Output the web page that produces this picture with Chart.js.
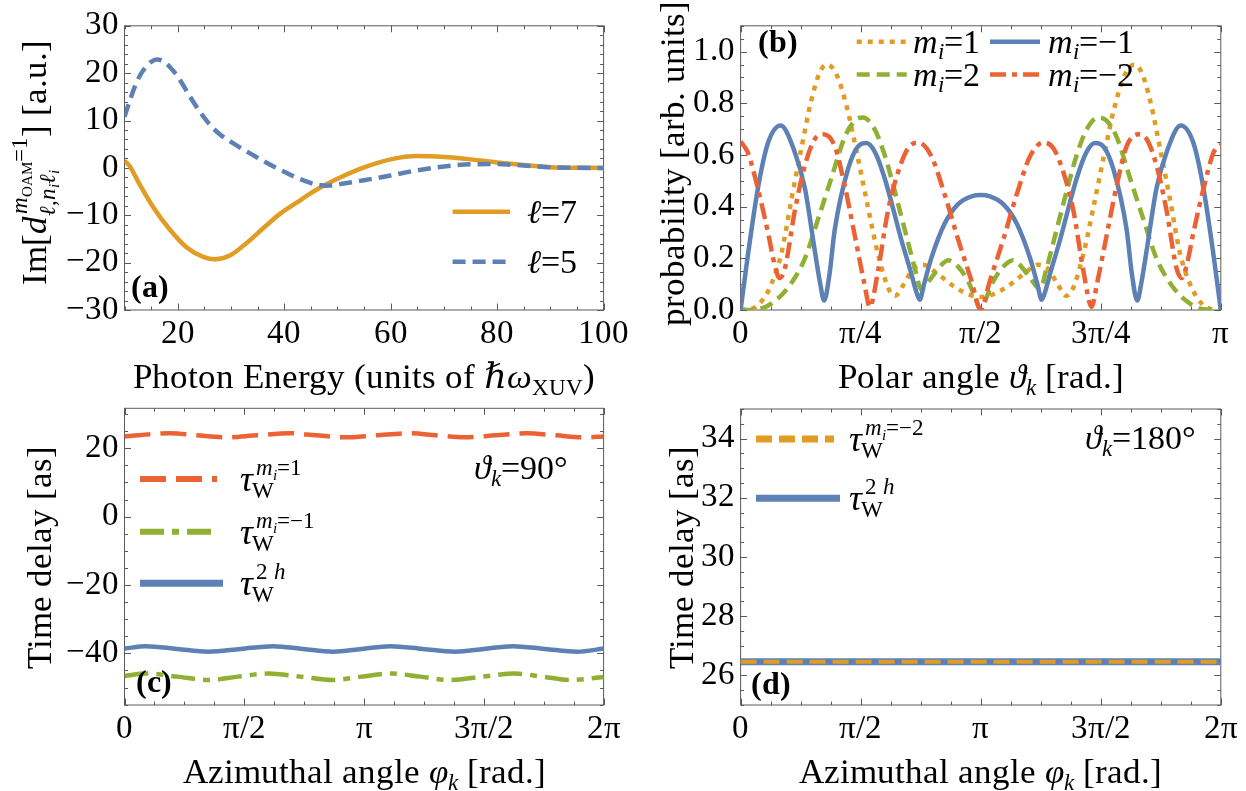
<!DOCTYPE html>
<html>
<head>
<meta charset="utf-8">
<script src="https://cdn.jsdelivr.net/npm/chart.js@4.4.1/dist/chart.umd.min.js"></script>
<style>
  @font-face { font-family: 'PanelSerif'; font-style: normal; font-weight: 400;
    src: local('Liberation Serif'), local('LiberationSerif'), local('Tinos'), local('Tinos-Regular'), local('DejaVu Serif'), local('DejaVuSerif'), local('Noto Serif'), local('NotoSerif-Regular'); }
  @font-face { font-family: 'PanelSerif'; font-style: italic; font-weight: 400;
    src: local('Liberation Serif Italic'), local('LiberationSerif-Italic'), local('Tinos Italic'), local('Tinos-Italic'), local('DejaVu Serif Italic'), local('DejaVuSerif-Italic'), local('Noto Serif Italic'), local('NotoSerif-Italic'); }
  @font-face { font-family: 'PanelSerif'; font-style: normal; font-weight: 700;
    src: local('Liberation Serif Bold'), local('LiberationSerif-Bold'), local('Tinos Bold'), local('Tinos-Bold'), local('DejaVu Serif Bold'), local('DejaVuSerif-Bold'), local('Noto Serif Bold'), local('NotoSerif-Bold'); }
  html, body { margin: 0; padding: 0; background: #fff; }
  #wrap { position: relative; width: 1246px; height: 791px; overflow: hidden; background: #fff; }
  #wrap canvas { position: absolute; left: 0; top: 0; }
</style>
</head>
<body>
<div id="wrap">
  <canvas id="pa" width="1246" height="791"></canvas>
  <canvas id="pb" width="1246" height="791"></canvas>
  <canvas id="pc" width="1246" height="791"></canvas>
  <canvas id="pd" width="1246" height="791"></canvas>
</div>
<script>
// ---------- (a) dipole matrix element vs photon energy ----------
const aEnergy7 = [10, 10.9, 12.9, 15.4, 18.5, 21.7, 24.8, 27, 29.8, 33, 36.1, 39.2, 42.4, 44.8, 46.7, 50, 55, 60, 65, 70, 75, 80, 85, 90, 95, 100];
const aImL7    = [1.5, 0.5, -3.6, -8.3, -13, -16.8, -18.8, -19.3, -18.5, -15.8, -12.7, -9.7, -7.3, -5.5, -4.2, -2.3, 0.1, 1.8, 2.5, 2.3, 1.8, 1.15, 0.6, 0.15, 0.03, 0];
const aEnergy5 = [10, 11, 12, 13, 14, 15, 16, 17, 18, 19, 20, 22, 24, 26, 28, 30, 32, 34, 36, 38, 40, 42, 44, 46, 48, 50, 55, 60, 65, 70, 75, 80, 85, 90, 95, 100];
const aImL5    = [10.8, 14.2, 17.3, 19.7, 21.3, 22.4, 22.9, 22.7, 21.9, 20.7, 19.3, 15.6, 12.1, 9.2, 7.0, 5.5, 4.1, 2.8, 1.5, 0.3, -0.8, -1.9, -2.8, -3.5, -3.75, -3.5, -2.6, -1.6, -0.5, 0.3, 0.75, 0.8, 0.5, 0.15, 0.02, 0];
const aXTicks = [20, 40, 60, 80, 100];
const aYTicks = [-30, -20, -10, 0, 10, 20, 30];

// ---------- (b) angular distributions, polar angle in units of pi ----------
const bThetaM1 = [0, 0.03, 0.05, 0.064, 0.085, 0.106, 0.127, 0.147, 0.165, 0.18, 0.2, 0.222, 0.243, 0.265, 0.287, 0.31, 0.322, 0.34, 0.36, 0.38, 0.41, 0.445, 0.475, 0.5, 0.525, 0.555, 0.59, 0.62, 0.64, 0.66, 0.678, 0.69, 0.713, 0.735, 0.757, 0.778, 0.8, 0.82, 0.835, 0.853, 0.873, 0.894, 0.915, 0.936, 0.95, 0.97, 1];
const bProbM1  = [0, 0.01, 0.05, 0.1, 0.22, 0.43, 0.63, 0.81, 0.92, 0.95, 0.91, 0.78, 0.6, 0.4, 0.21, 0.075, 0.055, 0.1, 0.16, 0.175, 0.14, 0.09, 0.06, 0.05, 0.06, 0.09, 0.14, 0.175, 0.16, 0.1, 0.055, 0.075, 0.21, 0.4, 0.6, 0.78, 0.91, 0.95, 0.92, 0.81, 0.63, 0.43, 0.22, 0.1, 0.05, 0.01, 0];
const bThetaM2 = [0, 0.036, 0.064, 0.099, 0.134, 0.161, 0.189, 0.217, 0.238, 0.255, 0.279, 0.3, 0.321, 0.342, 0.363, 0.376, 0.397, 0.418, 0.432, 0.453, 0.474, 0.49, 0.5, 0.51, 0.526, 0.547, 0.568, 0.582, 0.603, 0.624, 0.637, 0.658, 0.679, 0.7, 0.721, 0.745, 0.762, 0.783, 0.811, 0.839, 0.866, 0.901, 0.936, 0.964, 1];
const bProbM2  = [0, 0.003, 0.025, 0.087, 0.2, 0.35, 0.51, 0.67, 0.733, 0.745, 0.7, 0.6, 0.46, 0.31, 0.16, 0.08, 0.124, 0.174, 0.193, 0.168, 0.11, 0.04, 0, 0.04, 0.11, 0.168, 0.193, 0.174, 0.124, 0.08, 0.16, 0.31, 0.46, 0.6, 0.7, 0.745, 0.733, 0.67, 0.51, 0.35, 0.2, 0.087, 0.025, 0.003, 0];
const bThetaMm1 = [0, 0.015, 0.036, 0.057, 0.0835, 0.113, 0.134, 0.154, 0.165, 0.174, 0.185, 0.196, 0.224, 0.245, 0.262, 0.28, 0.3, 0.335, 0.356, 0.366, 0.373, 0.382, 0.397, 0.425, 0.453, 0.481, 0.5, 0.519, 0.547, 0.575, 0.603, 0.618, 0.627, 0.634, 0.644, 0.665, 0.7, 0.72, 0.738, 0.755, 0.776, 0.804, 0.815, 0.826, 0.835, 0.846, 0.866, 0.887, 0.9165, 0.943, 0.964, 0.985, 1];
const bProbMm1  = [0, 0.21, 0.47, 0.646, 0.714, 0.61, 0.47, 0.236, 0.11, 0.037, 0.137, 0.31, 0.547, 0.634, 0.646, 0.61, 0.51, 0.27, 0.137, 0.07, 0.04, 0.1, 0.2, 0.335, 0.41, 0.44, 0.445, 0.44, 0.41, 0.335, 0.2, 0.1, 0.04, 0.07, 0.137, 0.27, 0.51, 0.61, 0.646, 0.634, 0.547, 0.31, 0.137, 0.037, 0.11, 0.236, 0.47, 0.61, 0.714, 0.646, 0.47, 0.21, 0];
const bThetaMm2 = [0, 0.015, 0.036, 0.057, 0.071, 0.081, 0.092, 0.113, 0.134, 0.154, 0.172, 0.196, 0.217, 0.238, 0.258, 0.269, 0.286, 0.307, 0.328, 0.349, 0.37, 0.397, 0.425, 0.453, 0.481, 0.5, 0.519, 0.547, 0.575, 0.603, 0.63, 0.651, 0.672, 0.693, 0.714, 0.731, 0.742, 0.762, 0.783, 0.804, 0.828, 0.846, 0.866, 0.887, 0.908, 0.919, 0.929, 0.943, 0.964, 0.985, 1];
const bProbMm2  = [0.652, 0.61, 0.47, 0.3, 0.174, 0.124, 0.16, 0.385, 0.56, 0.66, 0.68, 0.634, 0.48, 0.286, 0.1, 0.012, 0.15, 0.385, 0.534, 0.627, 0.648, 0.596, 0.447, 0.273, 0.112, 0, 0.112, 0.273, 0.447, 0.596, 0.648, 0.627, 0.534, 0.385, 0.15, 0.012, 0.1, 0.286, 0.48, 0.634, 0.68, 0.66, 0.56, 0.385, 0.16, 0.124, 0.174, 0.3, 0.47, 0.61, 0.64];
const bXTicks = [0, 0.25, 0.5, 0.75, 1];
const bXLabels = ['0', 'π/4', 'π/2', '3π/4', 'π'];
const bYTicks = [0, 0.2, 0.4, 0.6, 0.8, 1.0];

// ---------- (c) time delays at polar angle 90 deg, azimuth in units of pi ----------
const cPhiM1 = [0, 0.06, 0.19, 0.3, 0.42, 0.55, 0.69, 0.8, 0.92, 1.05, 1.19, 1.3, 1.42, 1.55, 1.68, 1.8, 1.92, 2];
const cTauM1 = [23.45, 23.85, 24.4, 23.8, 23.2, 23.8, 24.4, 23.8, 23.2, 23.8, 24.4, 23.8, 23.2, 23.8, 24.4, 23.8, 23.2, 23.45];
const cPhiMm1 = [0, 0.09, 0.22, 0.35, 0.475, 0.6, 0.735, 0.87, 0.99, 1.11, 1.235, 1.36, 1.495, 1.63, 1.745, 1.86, 2];
const cTauMm1 = [-46.6, -45.9, -46.8, -47.8, -46.8, -45.9, -46.8, -47.8, -46.8, -45.9, -46.8, -47.8, -46.8, -45.9, -46.8, -47.8, -46.9];
const cPhi2h = [0, 0.09, 0.22, 0.35, 0.485, 0.62, 0.745, 0.87, 0.99, 1.11, 1.245, 1.38, 1.5, 1.62, 1.755, 1.89, 2];
const cTau2h = [-38.6, -37.9, -38.7, -39.5, -38.7, -37.9, -38.7, -39.5, -38.7, -37.9, -38.7, -39.5, -38.7, -37.9, -38.7, -39.5, -38.6];
const cXTicks = [0, 0.5, 1, 1.5, 2];
const cXLabels = ['0', 'π/2', 'π', '3π/2', '2π'];
const cYTicks = [-40, -20, 0, 20];

// ---------- (d) time delays at polar angle 180 deg ----------
const dPhi = [0, 2];
const dTauMm2 = [26.46, 26.46];
const dTau2h = [26.46, 26.46];
const dYTicks = [26, 28, 30, 32, 34];

// ---------- styling ----------
const BLUE = '#5E81B5', ORANGE = '#E19C24', GREEN = '#8FB032', RED = '#EB6235';
const FRAME = '#5a5a5a';
const W = 1246, H = 791;
let SERIF = "serif";

// first serif family that the system can actually render
function pickSerif() {
  const c = document.createElement('canvas').getContext('2d');
  const probe = 'mmmmmmmmmmlli1WQ@#0123456789 Photon';
  const cands = ['PanelSerif', 'Liberation Serif', 'Tinos', 'Times New Roman', 'Times', 'Nimbus Roman', 'Nimbus Roman No9 L', 'DejaVu Serif', 'Noto Serif', 'FreeSerif', 'Georgia'];
  const found = [];
  for (const f of cands) {
    let ok = false;
    for (const base of ['monospace', 'sans-serif', 'cursive']) {
      c.font = '72px ' + base; const w0 = c.measureText(probe).width;
      c.font = '72px "' + f + '", ' + base; const w1 = c.measureText(probe).width;
      if (Math.abs(w1 - w0) > 0.5) { ok = true; break; }
    }
    if (ok) found.push('"' + f + '"');
  }
  found.push('"DejaVu Serif"', 'serif');
  return found.join(', ');
}

function fnt(size, style) { return (style ? style + ' ' : '') + size + 'px ' + SERIF; }
function pts(xs, ys) { return xs.map((x, i) => ({ x: x, y: ys[i] })); }
function minus(v) { return v < 0 ? '\u2212' + String(Math.abs(v)) : String(v); }
function range(a, b, step) { const out = []; for (let v = a; v <= b + 1e-9; v += step) out.push(+v.toFixed(6)); return out; }

// rich text: runs of {t, s, st, dy, kx} or {stack:[runs, runs]}
function runsWidth(ctx, runs) {
  let w = 0;
  for (const r of runs) {
    if (r.stack) w += Math.max(...r.stack.map(l => runsWidth(ctx, l)));
    else { ctx.font = fnt(r.s, r.st); w += ctx.measureText(r.t).width + (r.kx || 0); }
  }
  return w;
}
function drawRuns(ctx, x, y, runs) {
  for (const r of runs) {
    if (r.stack) {
      let m = 0;
      for (const l of r.stack) m = Math.max(m, drawRuns(ctx, x, y, l) - x);
      x += m;
    } else {
      x += (r.kx || 0);
      ctx.font = fnt(r.s, r.st);
      ctx.fillText(r.t, x, y + (r.dy || 0));
      x += ctx.measureText(r.t).width;
    }
  }
  return x;
}
function R(t, s, st, dy, kx) { return { t: t, s: s, st: st || '', dy: dy || 0, kx: kx || 0 }; }

const frameTicks = {
  id: 'frameTicks',
  beforeDatasetsDraw(chart, args, o) {
    const { ctx, chartArea: a } = chart;
    const xs = chart.scales.x, ys = chart.scales.y;
    ctx.save();
    ctx.strokeStyle = FRAME;
    ctx.lineWidth = 1;
    ctx.strokeRect(a.left, a.top, a.right - a.left, a.bottom - a.top);
    const xt = (vals, len) => vals.forEach(v => {
      const p = Math.round(xs.getPixelForValue(v)) + 0.5;
      ctx.beginPath();
      ctx.moveTo(p, a.bottom); ctx.lineTo(p, a.bottom - len);
      ctx.moveTo(p, a.top); ctx.lineTo(p, a.top + len);
      ctx.stroke();
    });
    const yt = (vals, len) => vals.forEach(v => {
      const p = Math.round(ys.getPixelForValue(v)) + 0.5;
      ctx.beginPath();
      ctx.moveTo(a.left, p); ctx.lineTo(a.left + len, p);
      ctx.moveTo(a.right, p); ctx.lineTo(a.right - len, p);
      ctx.stroke();
    });
    xt(o.xMinor, 3.5); xt(o.xMajor, 6.5);
    yt(o.yMinor, 3.5); yt(o.yMajor, 6.5);
    ctx.restore();
  }
};

const decor = {
  id: 'decor',
  afterDraw(chart, args, o) {
    const ctx = chart.ctx;
    ctx.save();
    for (const it of o.items) {
      if (it.line !== undefined) {
        const ds = chart.data.datasets[it.line];
        ctx.strokeStyle = ds.borderColor;
        ctx.lineWidth = it.w || ds.borderWidth;
        ctx.setLineDash(ds.borderDash || []);
        ctx.lineCap = 'butt';
        ctx.beginPath();
        ctx.moveTo(it.x1, it.y); ctx.lineTo(it.x2, it.y);
        ctx.stroke();
        ctx.setLineDash([]);
      } else {
        ctx.save();
        ctx.fillStyle = '#000';
        ctx.textBaseline = 'alphabetic';
        ctx.textAlign = 'left';
        ctx.translate(it.x, it.y);
        if (it.rot) ctx.rotate(it.rot * Math.PI / 180);
        const w = runsWidth(ctx, it.runs);
        const x0 = it.align === 'center' ? -w / 2 : 0;
        drawRuns(ctx, x0, 0, it.runs);
        ctx.restore();
      }
    }
    ctx.restore();
  }
};

const TICK = 33;  // tick-label size

function makeChart(id, cfg) {
  const tickFont = { family: SERIF, size: TICK };
  return new Chart(document.getElementById(id), {
    type: 'line',
    data: { datasets: cfg.datasets },
    options: {
      responsive: false,
      animation: false,
      events: [],
      layout: { autoPadding: false, padding: { top: cfg.area.top, right: W - cfg.area.right, left: 0, bottom: 0 } },
      elements: { point: { radius: 0 }, line: { borderCapStyle: 'butt', borderJoinStyle: 'round', cubicInterpolationMode: 'monotone' } },
      scales: {
        x: {
          type: 'linear', min: cfg.x.min, max: cfg.x.max,
          grid: { display: false, drawTicks: false }, border: { display: false },
          ticks: { font: tickFont, color: '#000', padding: 5, maxRotation: 0, autoSkip: false,
                   callback: (v, i) => cfg.x.labels ? cfg.x.labels[i] : minus(v) },
          afterBuildTicks: s => { s.ticks = cfg.x.major.map(v => ({ value: v })); },
          afterFit: s => { s.height = H - cfg.area.bottom; }
        },
        y: {
          type: 'linear', min: cfg.y.min, max: cfg.y.max,
          grid: { display: false, drawTicks: false }, border: { display: false },
          ticks: { font: tickFont, color: '#000', padding: 6, autoSkip: false,
                   callback: (v, i) => cfg.y.fmt ? cfg.y.fmt(v) : minus(v) },
          afterBuildTicks: s => { s.ticks = cfg.y.major.map(v => ({ value: v })); },
          afterFit: s => { s.width = cfg.area.left; }
        }
      },
      plugins: {
        legend: { display: false },
        tooltip: { enabled: false },
        frameTicks: { xMajor: cfg.x.major, xMinor: cfg.x.minor, yMajor: cfg.y.major, yMinor: cfg.y.minor },
        decor: { items: cfg.items }
      }
    },
    plugins: [frameTicks, decor]
  });
}

function tauRuns(sup, S) {
  return [R('τ', 36, 'italic'), { stack: [sup, [R('W', S, '', 7, -1)]] }];
}

function build() {
  SERIF = pickSerif();
  const T = 35;   // axis-title size
  const L = 34;   // legend text size
  const S = 23;   // script size
  const SS = 15;  // second-level script size

  // ---------- panel (a) ----------
  makeChart('pa', {
    area: { left: 124.5, right: 603.6, top: 14, bottom: 310 },
    x: { min: 10, max: 100, major: aXTicks, minor: range(10, 100, 5) },
    y: { min: -30, max: 30, major: aYTicks, minor: range(-30, 30, 2) },
    datasets: [
      { label: 'ℓ=5', data: pts(aEnergy5, aImL5), borderColor: BLUE, borderWidth: 4.5, borderDash: [13, 7], order: 0 },
      { label: 'ℓ=7', data: pts(aEnergy7, aImL7), borderColor: ORANGE, borderWidth: 4.5, order: 1 }
    ],
    items: [
      { x: 364, y: 388, align: 'center', runs: [R('Photon Energy (units of ', T), R('ℏ', T, 'italic'), R('ω', T, 'italic'), R('XUV', S, '', 7), R(')', T)] },
      { x: 46, y: 162, rot: -90, align: 'center', runs: [
        R('Im[', T), R('d', T, 'italic'),
        { stack: [
          [R('m', S, 'italic', -19, 2), R('OAM', SS, '', -14), R('=1', S, '', -19)],
          [R('ℓ', S, 'italic', 9), R(',', S, '', 9), R('n', S, 'italic', 9), R('i', SS, 'italic', 13), R('ℓ', S, 'italic', 9), R('i', SS, 'italic', 13)]
        ] },
        R('] [a.u.]', T)
      ] },
      { line: 1, x1: 452.6, x2: 510, y: 211.7 },
      { x: 527, y: 223, runs: [R('ℓ', L, 'italic'), R('=7', L)] },
      { line: 0, x1: 452.6, x2: 510, y: 261.7 },
      { x: 527, y: 273, runs: [R('ℓ', L, 'italic'), R('=5', L)] },
      { x: 150, y: 297, align: 'center', runs: [R('(a)', 32, 'bold')] }
    ]
  });

  // ---------- panel (b) ----------
  makeChart('pb', {
    area: { left: 740.6, right: 1220.8, top: 14, bottom: 310 },
    x: { min: 0, max: 1, major: bXTicks, labels: bXLabels, minor: range(0, 1, 1 / 16) },
    y: { min: 0, max: 1.1, major: bYTicks, minor: range(0, 1.1, 0.05), fmt: v => v.toFixed(1) },
    datasets: [
      { label: 'm=-2', data: pts(bThetaMm2, bProbMm2), borderColor: RED, borderWidth: 4.5, borderDash: [16, 6, 5, 6], order: 0 },
      { label: 'm=-1', data: pts(bThetaMm1, bProbMm1), borderColor: BLUE, borderWidth: 4.5, order: 1 },
      { label: 'm=2', data: pts(bThetaM2, bProbM2), borderColor: GREEN, borderWidth: 4.5, borderDash: [13, 7], order: 2 },
      { label: 'm=1', data: pts(bThetaM1, bProbM1), borderColor: ORANGE, borderWidth: 4.5, borderDash: [5, 6], order: 3 }
    ],
    items: [
      { x: 980.7, y: 388, align: 'center', runs: [R('Polar angle ', T), R('ϑ', T, 'italic'), R('k', S, 'italic', 7), R(' [rad.]', T)] },
      { x: 684, y: 163, rot: -90, align: 'center', runs: [R('probability [arb. units]', T)] },
      { line: 3, x1: 856.7, x2: 906.7, y: 41.7 },
      { x: 913, y: 53, runs: [R('m', L, 'italic'), R('i', S, 'italic', 6), R('=1', L)] },
      { line: 1, x1: 990, x2: 1040, y: 41.7 },
      { x: 1048, y: 53, runs: [R('m', L, 'italic'), R('i', S, 'italic', 6), R('=\u22121', L)] },
      { line: 2, x1: 856.7, x2: 906.7, y: 74.5 },
      { x: 913, y: 86, runs: [R('m', L, 'italic'), R('i', S, 'italic', 6), R('=2', L)] },
      { line: 0, x1: 990, x2: 1040, y: 74.5 },
      { x: 1048, y: 86, runs: [R('m', L, 'italic'), R('i', S, 'italic', 6), R('=\u22122', L)] },
      { x: 778, y: 52, align: 'center', runs: [R('(b)', 32, 'bold')] }
    ]
  });

  // ---------- panel (c) ----------
  makeChart('pc', {
    area: { left: 124.5, right: 603.6, top: 408.3, bottom: 705 },
    x: { min: 0, max: 2, major: cXTicks, labels: cXLabels, minor: range(0, 2, 1 / 8) },
    y: { min: -55.1, max: 31.7, major: cYTicks, minor: range(-55, 30, 5) },
    datasets: [
      { label: 'tau 2h', data: pts(cPhi2h, cTau2h), borderColor: BLUE, borderWidth: 4.5, order: 0 },
      { label: 'tau m=-1', data: pts(cPhiMm1, cTauMm1), borderColor: GREEN, borderWidth: 4.5, borderDash: [24, 8, 7, 8], order: 1 },
      { label: 'tau m=1', data: pts(cPhiM1, cTauM1), borderColor: RED, borderWidth: 4.5, borderDash: [26, 10], order: 2 }
    ],
    items: [
      { x: 364, y: 783, align: 'center', runs: [R('Azimuthal angle ', T), R('φ', T, 'italic'), R('k', S, 'italic', 7), R(' [rad.]', T)] },
      { x: 51, y: 557, rot: -90, align: 'center', runs: [R('Time delay [as]', T)] },
      { line: 2, x1: 140, x2: 217, y: 479, w: 6 },
      { x: 240, y: 491, runs: tauRuns([R('m', S, 'italic', -16, 3), R('i', SS, 'italic', -11), R('=1', S, '', -16)], S) },
      { line: 1, x1: 140, x2: 217, y: 531.7, w: 6 },
      { x: 240, y: 543.7, runs: tauRuns([R('m', S, 'italic', -16, 3), R('i', SS, 'italic', -11), R('=\u22121', S, '', -16)], S) },
      { line: 0, x1: 140, x2: 223, y: 583.3, w: 7 },
      { x: 240, y: 595.3, runs: tauRuns([R('2', S, '', -16, 3), R(' ', S, '', -16), R('h', S, 'italic', -16)], S) },
      { x: 474, y: 479, runs: [R('ϑ', L, 'italic'), R('k', S, 'italic', 7), R('=90°', L)] },
      { x: 154, y: 692, align: 'center', runs: [R('(c)', 32, 'bold')] }
    ]
  });

  // ---------- panel (d) ----------
  makeChart('pd', {
    area: { left: 740.6, right: 1220.8, top: 409, bottom: 705 },
    x: { min: 0, max: 2, major: cXTicks, labels: cXLabels, minor: range(0, 2, 1 / 8) },
    y: { min: 25, max: 35, major: dYTicks, minor: range(25, 35, 0.5) },
    datasets: [
      { label: 'tau m=-2', data: pts(dPhi, dTauMm2), borderColor: ORANGE, borderWidth: 4, borderDash: [16, 7], order: 0 },
      { label: 'tau 2h', data: pts(dPhi, dTau2h), borderColor: BLUE, borderWidth: 7, order: 1 }
    ],
    items: [
      { x: 980.7, y: 783, align: 'center', runs: [R('Azimuthal angle ', T), R('φ', T, 'italic'), R('k', S, 'italic', 7), R(' [rad.]', T)] },
      { x: 693, y: 557.5, rot: -90, align: 'center', runs: [R('Time delay [as]', T)] },
      { line: 0, x1: 756, x2: 834, y: 439, w: 7 },
      { x: 849, y: 451, runs: tauRuns([R('m', S, 'italic', -16, 3), R('i', SS, 'italic', -11), R('=\u22122', S, '', -16)], S) },
      { line: 1, x1: 756, x2: 840, y: 498.3, w: 7 },
      { x: 849, y: 510.3, runs: tauRuns([R('2', S, '', -16, 3), R(' ', S, '', -16), R('h', S, 'italic', -16)], S) },
      { x: 1085, y: 449, runs: [R('ϑ', L, 'italic'), R('k', S, 'italic', 7), R('=180°', L)] },
      { x: 771, y: 694, align: 'center', runs: [R('(d)', 32, 'bold')] }
    ]
  });
}

const faceLoads = ['30px PanelSerif', 'italic 30px PanelSerif', 'bold 30px PanelSerif'].map(f => document.fonts.load(f).catch(() => null));
Promise.all(faceLoads).then(build, build);
</script>
</body>
</html>
